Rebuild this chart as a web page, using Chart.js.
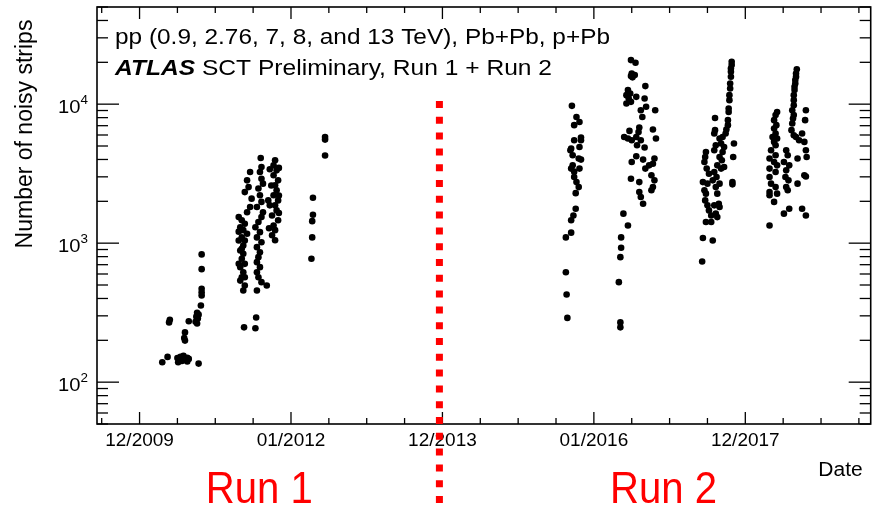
<!DOCTYPE html>
<html><head><meta charset="utf-8">
<script src="https://cdn.jsdelivr.net/npm/chart.js@4"></script>
<style>html,body{margin:0;padding:0;background:#fff}#wrap{width:874px;height:509px;position:relative}</style>
</head><body><div id="wrap"><canvas id="c"></canvas></div>
<script>
// ---- Data (decimal year, number of noisy strips) ----
const dates2010 = [2010.30,2010.37,2010.50,2010.51,2010.54,2010.56,2010.58,2010.63,2010.63,2010.65,2010.78,2010.60,2010.59,2010.60,2010.40,2010.39,2010.65,2010.76,2010.75,2010.77,2010.74,2010.76,2010.78,2010.81,2010.82,2010.82,2010.82,2010.82,2010.82];
const noisy2010 = [139,152,149,139,152,142,155,150,141,147,136,228,208,199,281,269,274,316,296,287,272,264,306,356,469,443,420,650,830];

const dates2011 = [2011.46,2011.42,2011.44,2011.39,2011.48,2011.46,2011.42,2011.31,2011.35,2011.39,2011.33,2011.37,2011.42,2011.35,2011.39,2011.37,2011.33,2011.37,2011.35,2011.39,2011.33,2011.37,2011.35,2011.33,2011.39,2011.37,2011.31,2011.35,2011.31,2011.39,2011.31,
  2011.60,2011.61,2011.59,2011.61,2011.63,2011.57,2011.59,2011.61,2011.55,2011.63,2011.61,2011.57,2011.53,2011.59,2011.55,2011.61,2011.55,2011.59,2011.57,2011.55,2011.59,2011.55,2011.57,2011.61,2011.68,2011.55,
  2011.79,2011.77,2011.81,2011.77,2011.83,2011.79,2011.81,2011.77,2011.83,2011.79,2011.81,2011.75,2011.83,2011.77,2011.79,2011.75,2011.72,2011.84,2011.74,2011.84,2011.72,2011.84,2011.70,2011.79,2011.71,
  2011.38,2011.53,2011.54];
const noisy2011 = [3250,2830,2530,2330,2090,1820,1670,1540,1460,1380,1300,1240,1170,1100,1045,962,886,839,773,710,672,618,569,538,496,456,1045,912,710,569,1210,
  4100,3530,3250,2910,2680,2470,2210,1980,1820,1670,1540,1420,1300,1200,1100,1016,936,861,793,730,672,618,569,524,496,456,
  3950,3630,3340,3080,2830,2610,2400,2210,2030,1870,1720,1580,1460,1340,1240,1140,3400,3480,2600,2200,1870,1650,2030,1050,1280,
  248,244,292];

const dates2012 = [2012.27,2012.29,2012.29,2012.28,2012.28,2012.45,2012.45,2012.45];
const noisy2012 = [773,2120,1600,1440,1100,5810,5560,4270];

const dates2015 = [2015.71,2015.77,2015.81,2015.74,2015.83,2015.74,2015.81,2015.70,2015.72,2015.80,2015.83,2015.72,2015.81,2015.74,2015.77,2015.80,2015.76,2015.76,2015.73,2015.70,2015.70,2015.63,2015.63,2015.64,2015.65,2015.69,2015.83,2015.70,2015.74];
const noisy2015 = [9720,8090,7450,7060,5750,5500,4920,4800,4290,4060,3990,3630,3440,2990,2750,2530,2290,1770,1580,1460,1190,1100,618,427,290,4660,5500,3440,3270];

const dates2016 = [2016.49,2016.55,2016.50,2016.54,2016.51,2016.49,2016.68,2016.45,2016.48,2016.43,2016.46,2016.43,2016.49,2016.56,2016.67,2016.69,2016.62,2016.81,2016.64,
  2016.47,2016.40,2016.45,2016.50,2016.56,2016.59,2016.60,2016.62,2016.78,2016.82,2016.57,2016.67,
  2016.56,2016.50,2016.65,2016.68,2016.80,2016.78,2016.73,2016.76,2016.80,2016.78,2016.76,2016.60,2016.49,2016.60,2016.62,2016.65,
  2016.39,2016.45,2016.36,2016.36,2016.35,2016.33,2016.35,2016.35];
const noisy2016 = [20750,19860,16630,16180,15590,15920,13490,12620,11940,11610,10990,10120,10390,11290,10990,9570,9050,9050,8090,
  6420,5810,5660,5500,5810,6310,6790,5500,6570,5660,5060,4880,
  4220,3840,3990,3440,4060,3730,3630,3080,2830,2530,2400,2750,2910,2330,2150,1920,
  1630,1340,1100,927,793,524,269,248];

const dates2017 = [2017.82,2017.82,2017.81,2017.81,2017.81,2017.80,2017.80,2017.79,2017.79,2017.78,2017.78,2017.77,2017.77,2017.75,2017.74,2017.85,2017.84,2017.83,2017.83,
  2017.60,2017.60,2017.59,2017.66,2017.70,2017.68,2017.72,2017.70,2017.61,2017.59,2017.66,2017.69,2017.63,2017.68,2017.59,2017.72,2017.62,2017.57,2017.66,2017.61,2017.63,2017.65,2017.59,2017.66,2017.61,2017.63,
  2017.48,2017.47,2017.46,2017.49,2017.52,2017.44,2017.50,2017.46,2017.48,2017.47,2017.50,2017.52,2017.55,2017.48,2017.55,2017.44,2017.57,2017.43];
const noisy2017 = [20180,19100,18070,17100,15740,14090,12970,11610,10690,9310,8790,7670,7060,6570,6150,5210,4170,2750,2650,
  7960,6500,6150,5660,5810,5210,4920,4530,5060,4660,4170,3950,3630,3440,3250,3530,2990,2830,2680,2530,2270,1920,1870,1820,1630,1540,
  4530,4170,3840,3440,3160,2750,2680,2400,2270,2030,1870,1720,1580,1420,1420,1090,1045,738];

const dates2018 = [2018.68,2018.67,2018.67,2018.66,2018.66,2018.65,2018.65,2018.64,2018.64,2018.64,2018.62,2018.64,2018.63,2018.62,2018.61,2018.64,2018.67,
  2018.80,2018.79,2018.75,2018.78,2018.80,2018.81,2018.78,2018.80,2018.75,2018.80,
  2018.42,2018.40,2018.38,2018.41,2018.38,2018.40,2018.36,2018.42,2018.38,2018.40,2018.34,2018.40,2018.32,2018.38,2018.42,2018.32,2018.40,2018.32,2018.34,2018.40,2018.32,2018.42,2018.32,2018.38,2018.32,
  2018.54,2018.56,2018.51,2018.58,2018.54,2018.53,2018.57,2018.54,2018.56,2018.69,2018.69,2018.71,2018.51,2018.58];
const noisy2018 = [17800,16630,15740,14900,14090,13340,12620,11610,10690,9830,9050,8340,7890,7260,6500,5970,5810,
  9050,7670,6150,5350,4660,4170,3080,3020,1770,1580,
  8790,8340,7670,7060,6680,6150,5810,5660,5350,5060,4660,4290,4060,3840,3630,3440,3250,2990,2680,2530,2330,2270,2210,1980,1340,
  4660,4290,3840,3630,3340,2990,2830,2530,2400,2680,4060,5500,1630,1770];

// ---- Axis ticks / labels ----
const xTickValues = [2010, 2012, 2014, 2016, 2018];
const xTickLabels = ['12/2009', '01/2012', '12/2013', '01/2016', '12/2017'];
const yTickValues = [100, 1000, 10000];
const yTickBase = '10';
const yTickExponents = ['2', '3', '4'];
const runBoundary = 2013.96;
const runLabels = [['Run 1', 2011.58], ['Run 2', 2016.92]];
const legendLine1 = 'pp (0.9, 2.76, 7, 8, and 13 TeV), Pb+Pb, p+Pb';
const legendLine2 = ' SCT Preliminary, Run 1 + Run 2';

const FONT = '"Liberation Sans", Arial, Helvetica, sans-serif';

const periods = [[dates2010,noisy2010],[dates2011,noisy2011],[dates2012,noisy2012],[dates2015,noisy2015],[dates2016,noisy2016],[dates2017,noisy2017],[dates2018,noisy2018]];
const datasets = periods.map(([d, v]) => ({
  data: d.map((x, i) => ({x: x, y: v[i]})),
  backgroundColor: '#000', borderColor: '#000', borderWidth: 0,
  pointRadius: 3.3, pointHoverRadius: 3.3
}));

const decor = {
  id: 'decor',
  afterDraw(chart) {
    const ctx = chart.ctx, a = chart.chartArea, x = chart.scales.x, y = chart.scales.y;
    ctx.save();
    const line = (x1, y1, x2, y2) => { ctx.beginPath(); ctx.moveTo(x1, y1); ctx.lineTo(x2, y2); ctx.stroke(); };
    ctx.strokeStyle = '#000'; ctx.lineWidth = 1.3;
    for (let v = Math.ceil(x.min * 2) / 2; v <= x.max; v += 0.5) {
      const px = x.getPixelForValue(v);
      const L = xTickValues.includes(v) ? 12 : 6;
      line(px, a.bottom, px, a.bottom - L);
      line(px, a.top, px, a.top + L);
    }
    for (let e = 1; e <= 4; e++) for (let m = 1; m <= 9; m++) {
      const v = m * Math.pow(10, e);
      if (v < y.min || v > y.max) continue;
      const py = y.getPixelForValue(v);
      const L = m === 1 ? 22 : 11;
      line(a.left, py, a.left + L, py);
      line(a.right, py, a.right - L, py);
    }
    ctx.lineWidth = 1.6;
    ctx.strokeRect(a.left, a.top, a.right - a.left, a.bottom - a.top);

    // y tick labels 10^n (slightly widened like the reference)
    ctx.fillStyle = '#000'; ctx.textBaseline = 'alphabetic'; ctx.textAlign = 'left';
    yTickValues.forEach((v, i) => {
      const py = y.getPixelForValue(v);
      const right = a.left - 9;
      ctx.save();
      ctx.translate(right, 0); ctx.scale(1.12, 1);
      ctx.font = '12px ' + FONT; const we = ctx.measureText(yTickExponents[i]).width;
      ctx.font = '18px ' + FONT; const wb = ctx.measureText(yTickBase).width;
      ctx.fillText(yTickBase, -we - wb, py + 9);
      ctx.font = '12px ' + FONT;
      ctx.fillText(yTickExponents[i], -we, py + 0);
      ctx.restore();
    });

    // legend text
    const lx = a.left + 18;
    ctx.save();
    ctx.font = '22px ' + FONT;
    let w1 = ctx.measureText(legendLine1).width;
    ctx.translate(lx, 43.5); ctx.scale(495 / w1, 1);
    ctx.fillText(legendLine1, 0, 0);
    ctx.restore();
    ctx.save();
    ctx.font = 'italic bold 22px ' + FONT;
    const wA = ctx.measureText('ATLAS').width;
    ctx.font = '22px ' + FONT;
    const wR = ctx.measureText(legendLine2).width;
    ctx.translate(lx, 75); ctx.scale(437 / (wA + wR), 1);
    ctx.font = 'italic bold 22px ' + FONT;
    ctx.fillText('ATLAS', 0, 0);
    ctx.font = '22px ' + FONT;
    ctx.fillText(legendLine2, wA, 0);
    ctx.restore();

    // axis titles
    ctx.save();
    ctx.font = '20px ' + FONT; ctx.textAlign = 'right';
    ctx.translate(a.right - 8, 476); ctx.scale(1.05, 1);
    ctx.fillText('Date', 0, 0);
    ctx.restore();
    ctx.save();
    ctx.translate(32, 134); ctx.rotate(-Math.PI / 2);
    ctx.font = '23px ' + FONT; ctx.textAlign = 'center';
    ctx.fillText('Number of noisy strips', 0, 0);
    ctx.restore();

    // run labels
    ctx.fillStyle = '#ff0000';
    runLabels.forEach(([t, xv]) => {
      ctx.save();
      ctx.font = '44px "Liberation Sans Narrow", ' + FONT;
      const w = ctx.measureText(t).width;
      ctx.translate(x.getPixelForValue(xv), 503);
      ctx.scale(107 / w, 1);
      ctx.textAlign = 'center';
      ctx.fillText(t, 0, 0);
      ctx.restore();
    });

    // run boundary
    const bx = x.getPixelForValue(runBoundary);
    ctx.strokeStyle = '#ff0000'; ctx.lineWidth = 7; ctx.setLineDash([7, 8.8]);
    line(bx, 101, bx, 509);
    ctx.restore();
  }
};

new Chart(document.getElementById('c'), {
  type: 'scatter',
  data: { datasets },
  options: {
    responsive: true, maintainAspectRatio: false, animation: false, events: [],
    layout: { padding: { top: 7, right: 2, left: 0, bottom: 0 } },
    plugins: { legend: { display: false }, tooltip: { enabled: false } },
    scales: {
      x: {
        type: 'linear', position: 'bottom', min: 2009.438, max: 2019.656,
        grid: { display: false, drawTicks: false }, border: { display: false },
        afterBuildTicks: s => { s.ticks = xTickValues.map(v => ({ value: v })); },
        afterFit: s => { s.height = 85; },
        ticks: {
          autoSkip: false, maxRotation: 0, padding: 5, color: '#000',
          font: { family: FONT, size: 19 },
          callback: (v, i) => xTickLabels[i]
        }
      },
      y: {
        type: 'logarithmic', position: 'left', min: 50, max: 50000,
        grid: { display: false, drawTicks: false }, border: { display: false },
        afterBuildTicks: s => { s.ticks = yTickValues.map(v => ({ value: v })); },
        afterFit: s => { s.width = 97; },
        ticks: { display: false }
      }
    }
  },
  plugins: [decor]
});
</script></body></html>
